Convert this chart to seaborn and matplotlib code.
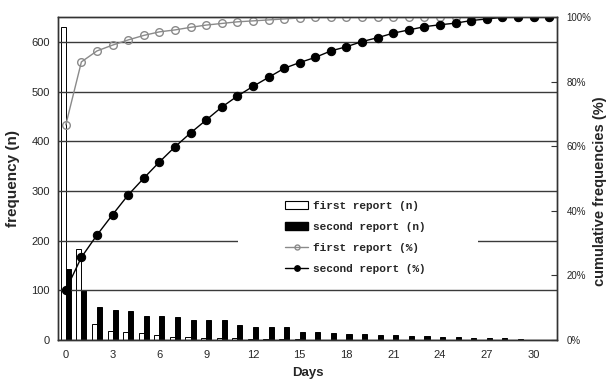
import numpy as np
import pandas as pd
import matplotlib
matplotlib.use("Agg")
import matplotlib.pyplot as plt
from matplotlib.patches import Patch, Rectangle
from matplotlib.lines import Line2D
import seaborn as sns

# ---- data ----
days = list(range(32))
first_n = [630, 184, 33, 18, 17, 14, 11, 7, 7, 5, 5, 5, 3, 2, 2, 2,
           1, 1, 0, 0, 0, 0, 0, 0, 0, 0, 0, 0, 0, 0, 0, 0]
second_n = [143, 100, 66, 61, 58, 49, 49, 46, 40, 40, 40, 30, 27, 27, 26, 17,
            16, 15, 12, 12, 11, 11, 9, 9, 7, 6, 5, 5, 5, 2, 1, 1]
first_pct = [66.6, 86.1, 89.5, 91.3, 92.9, 94.3, 95.4, 96.0, 96.8, 97.5, 98.0,
             98.5, 98.8, 99.1, 99.4, 99.7, 99.9, 100, 100, 100, 100, 100, 100,
             100, 100, 100, 100, 100, 100, 100, 100, 100]
second_pct = [15.5, 25.6, 32.5, 38.8, 44.9, 50.1, 55.1, 59.8, 64.1, 68.1, 72.1,
              75.5, 78.5, 81.3, 84.1, 85.9, 87.5, 89.5, 90.8, 92.4, 93.6, 95.0,
              96.0, 97.0, 97.6, 98.1, 98.9, 99.4, 99.9, 100, 100, 100]
series_names = ["first report (n)", "second report (n)",
                "first report (%)", "second report (%)"]
xtick_vals = list(range(0, 31, 3))
ytick_left = list(range(0, 601, 100))
ytick_right = list(range(0, 101, 20))

sns.set_style("white")
plt.rcParams["font.family"] = ["Liberation Sans", "DejaVu Sans"]

fig = plt.figure(figsize=(6.11, 3.8), dpi=100)
fig.subplots_adjust(left=58/611, right=557/611, top=1-17/380, bottom=1-340/380)
ax = fig.add_subplot(111)

df = pd.DataFrame({
    "day": days * 2,
    "n": first_n + second_n,
    "report": ["first"] * len(days) + ["second"] * len(days),
})
sns.barplot(data=df, x="day", y="n", hue="report",
            palette={"first": "white", "second": "black"},
            edgecolor="black", linewidth=0.7, width=0.65,
            legend=False, ax=ax, errorbar=None)

ax.set_xlim(-0.5, 31.5)
ax.set_ylim(0, 650)
ax.set_yticks(ytick_left)
ax.set_yticklabels([str(v) for v in ytick_left], fontsize=8)
ax.set_xticks(xtick_vals)
ax.set_xticklabels([str(v) for v in xtick_vals], fontsize=8)
ax.set_xticks(np.arange(0.5, 31, 1.0), minor=True)
ax.tick_params(axis="x", which="major", length=0, pad=7)
ax.tick_params(axis="x", which="minor", length=4, direction="in", width=0.8, color="black")
ax.tick_params(axis="y", length=0, pad=6)
ax.set_axisbelow(False)
ax.yaxis.grid(True, color="#3a3a3a", linewidth=1.0)
ax.xaxis.grid(False)
ax.set_xlabel("Days", fontsize=9.5, fontweight="bold", labelpad=5)
ax.set_ylabel("frequency (n)", fontsize=11, fontweight="bold", labelpad=8)
for s in ax.spines.values():
    s.set_color("#333333")
    s.set_linewidth(1.0)

# white area behind legend that hides the gridline
ax.add_patch(Rectangle((0.361, 0.186), 0.481, 0.25, transform=ax.transAxes,
                       facecolor="white", edgecolor="none", zorder=2.6))

ax2 = ax.twinx()
sns.lineplot(x=days, y=first_pct, ax=ax2, color="#8a8a8a", linewidth=1.0,
             marker="o", markersize=5.5, markerfacecolor="none",
             markeredgecolor="#8a8a8a", markeredgewidth=1.0)
sns.lineplot(x=days, y=second_pct, ax=ax2, color="black", linewidth=1.0,
             marker="o", markersize=6, markerfacecolor="black",
             markeredgecolor="black")
ax2.set_ylim(0, 100)
ax2.set_xlim(-0.5, 31.5)
ax2.set_yticks(ytick_right)
ax2.set_yticklabels([f"{v}%" for v in ytick_right], fontsize=7)
ax2.tick_params(axis="y", length=4, direction="in", width=0.8, pad=7, color="#333333")
ax2.set_ylabel("cumulative frequencies (%)", fontsize=10.5, fontweight="bold",
               labelpad=4, rotation=90)
ax2.yaxis.set_label_coords(1.072, 0.46)
for s in ax2.spines.values():
    s.set_color("#333333")
    s.set_linewidth(1.0)

handles = [
    Patch(facecolor="white", edgecolor="black", linewidth=0.8),
    Patch(facecolor="black", edgecolor="black"),
    Line2D([], [], color="#8a8a8a", linewidth=1.0, marker="o", markersize=5.5,
           markerfacecolor="none", markeredgecolor="#8a8a8a"),
    Line2D([], [], color="black", linewidth=1.0, marker="o", markersize=6,
           markerfacecolor="black"),
]
leg = ax2.legend(handles, series_names, loc="upper left",
                 bbox_to_anchor=(285/611, 1-201/380), bbox_transform=fig.transFigure,
                 frameon=False, borderpad=0, borderaxespad=0,
                 prop={"family": "Liberation Mono", "size": 8, "weight": "bold"},
                 handlelength=2.1, handletextpad=0.45, labelspacing=1.0,
                 markerscale=0.65)

fig.savefig("out.png", dpi=100)
